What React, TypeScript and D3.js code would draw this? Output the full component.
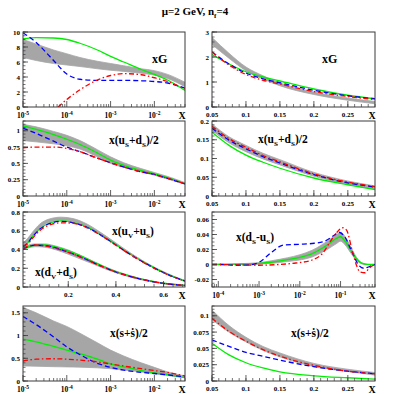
import React from 'react';
import * as d3 from 'd3';

// ---------------- data ----------------
// common x grids
const xLogA = [1e-5, 2e-5, 5e-5, 1e-4, 2e-4, 5e-4, 1e-3, 2e-3, 5e-3, 1e-2, 2e-2, 5e-2];
const xLinA = [0.05, 0.075, 0.1, 0.125, 0.15, 0.2, 0.25, 0.29];

// Panel 1 left: xG (small x)
const gSmallBandLo = [6.6, 6.2, 5.8, 5.6, 5.4, 5.1, 4.9, 4.75, 4.5, 4.25, 3.8, 2.7];
const gSmallBandHi = [9.0, 8.4, 7.6, 7.1, 6.6, 6.1, 5.8, 5.5, 5.1, 4.85, 4.35, 3.3];
const gSmallGreen = [9.1, 9.25, 9.2, 9.0, 8.5, 7.6, 6.75, 6.0, 5.0, 4.35, 3.6, 2.2];
const gSmallBlue = [9.9, 8.6, 6.2, 4.4, 3.7, 3.55, 3.55, 3.55, 3.5, 3.4, 3.2, 2.5];
const gSmallRedX = [6.3e-5, 1e-4, 2e-4, 5e-4, 1e-3, 2e-3, 5e-3, 1e-2, 2e-2, 5e-2];
const gSmallRed = [0, 1.0, 2.3, 3.6, 4.2, 4.45, 4.3, 3.9, 3.4, 2.4];

// Panel 1 right: xG (large x)
const gLargeBandLo = [2.5, 1.95, 1.45, 1.12, 0.85, 0.5, 0.27, 0.13];
const gLargeBandHi = [2.78, 2.15, 1.6, 1.25, 0.96, 0.6, 0.36, 0.22];
const gLargeGreen = [2.1, 1.72, 1.41, 1.2, 1.04, 0.72, 0.47, 0.33];
const gLargeBlue = [2.2, 1.72, 1.36, 1.13, 0.97, 0.67, 0.45, 0.33];
const gLargeRed = [2.2, 1.68, 1.3, 1.07, 0.92, 0.62, 0.42, 0.3];

// Panel 2 left: x(uS+dS)/2 small x
const seaSmallBandLo = [0.85, 0.83, 0.8, 0.77, 0.72, 0.6, 0.5, 0.44, 0.37, 0.32, 0.26, 0.18];
const seaSmallBandHi = [1.1, 1.06, 0.99, 0.93, 0.85, 0.71, 0.6, 0.51, 0.42, 0.36, 0.3, 0.205];
const seaSmallGreen = [1.075, 1.02, 0.94, 0.87, 0.79, 0.66, 0.55, 0.47, 0.39, 0.34, 0.28, 0.19];
const seaSmallBlue = [1.04, 0.96, 0.84, 0.75, 0.68, 0.58, 0.51, 0.445, 0.37, 0.33, 0.27, 0.185];
const seaSmallRed = [0.74, 0.75, 0.75, 0.73, 0.68, 0.58, 0.51, 0.445, 0.37, 0.33, 0.27, 0.185];

// Panel 2 right: x(uS+dS)/2 large x
const seaLargeBandLo = [0.175, 0.142, 0.118, 0.099, 0.083, 0.053, 0.031, 0.018];
const seaLargeBandHi = [0.192, 0.158, 0.135, 0.114, 0.097, 0.063, 0.04, 0.027];
const seaLargeGreen = [0.17, 0.135, 0.109, 0.09, 0.074, 0.048, 0.03, 0.017];
const seaLargeBlue = [0.181, 0.149, 0.126, 0.105, 0.088, 0.057, 0.035, 0.024];
const seaLargeRed = [0.186, 0.153, 0.13, 0.108, 0.091, 0.059, 0.037, 0.025];

// Panel 3 left: x(uV+uS) and x(dV+dS)
const uX = [0.01, 0.03, 0.05, 0.08, 0.12, 0.17, 0.22, 0.28, 0.34, 0.4, 0.46, 0.52, 0.58, 0.64, 0.69];
const uBandLo = [0.42, 0.475, 0.545, 0.625, 0.69, 0.715, 0.7, 0.645, 0.552, 0.45, 0.35, 0.258, 0.176, 0.108, 0.06];
const uBandHi = [0.47, 0.52, 0.585, 0.67, 0.725, 0.745, 0.73, 0.67, 0.575, 0.47, 0.365, 0.27, 0.188, 0.118, 0.07];
const uGreen = [0.42, 0.47, 0.54, 0.62, 0.68, 0.705, 0.69, 0.64, 0.55, 0.45, 0.35, 0.26, 0.18, 0.11, 0.065];
const uBlue = [0.43, 0.47, 0.535, 0.615, 0.675, 0.7, 0.685, 0.635, 0.548, 0.448, 0.348, 0.258, 0.178, 0.11, 0.064];
const uRed = [0.44, 0.46, 0.52, 0.6, 0.66, 0.685, 0.68, 0.63, 0.545, 0.445, 0.345, 0.255, 0.175, 0.108, 0.063];
const dX = [0.01, 0.03, 0.06, 0.1, 0.15, 0.2, 0.25, 0.3, 0.35, 0.4, 0.45, 0.5, 0.55, 0.6, 0.69];
const dBandLo = [0.395, 0.415, 0.43, 0.425, 0.395, 0.35, 0.3, 0.25, 0.198, 0.152, 0.113, 0.08, 0.055, 0.035, 0.014];
const dBandHi = [0.42, 0.445, 0.46, 0.46, 0.435, 0.395, 0.34, 0.28, 0.222, 0.17, 0.128, 0.092, 0.064, 0.042, 0.02];
const dGreen = [0.4, 0.425, 0.445, 0.448, 0.425, 0.385, 0.335, 0.275, 0.215, 0.165, 0.125, 0.09, 0.062, 0.04, 0.018];
const dBlue = [0.405, 0.43, 0.446, 0.442, 0.415, 0.372, 0.322, 0.266, 0.21, 0.16, 0.12, 0.086, 0.059, 0.038, 0.017];
const dRed = [0.41, 0.435, 0.448, 0.44, 0.41, 0.37, 0.32, 0.265, 0.21, 0.16, 0.12, 0.087, 0.06, 0.039, 0.017];

// Panel 3 right: x(dS-uS)
const asymX = [7e-5, 1e-4, 3e-4, 1e-3, 2e-3, 5e-3, 1e-2, 2e-2, 5e-2, 8e-2, 0.1, 0.13, 0.18, 0.25, 0.3, 0.4, 0.5, 0.7];
const asymBandLo = [0, 0, 0, 0.0005, 0.0015, 0.004, 0.006, 0.01, 0.021, 0.028, 0.031, 0.026, 0.015, 0.005, 0.002, 0, 0, 0];
const asymBandHi = [0, 0.0005, 0.001, 0.0025, 0.005, 0.009, 0.013, 0.019, 0.032, 0.04, 0.043, 0.037, 0.023, 0.009, 0.004, 0.001, 0, 0];
const asymGreen = [0, 0, 0.0005, 0.0015, 0.003, 0.0065, 0.0095, 0.0145, 0.027, 0.035, 0.037, 0.031, 0.019, 0.007, 0.003, 0.0005, 0, 0];
const asymRedX = [7e-5, 1e-4, 3e-4, 1e-3, 3e-3, 8e-3, 2e-2, 3.5e-2, 6e-2, 0.085, 0.11, 0.14, 0.19, 0.25, 0.3, 0.4, 0.5, 0.7];
const asymRed = [0, 0, -0.0005, -0.001, 0, 0.002, 0.006, 0.014, 0.033, 0.044, 0.049, 0.046, 0.02, -0.002, -0.01, -0.011, -0.005, 0];
const asymBlueX = [7e-5, 1e-4, 3e-4, 6e-4, 1e-3, 2e-3, 4e-3, 1e-2, 2e-2, 4e-2, 7e-2, 0.09, 0.13, 0.19, 0.28, 0.37, 0.5, 0.7];
const asymBlue = [0, 0, -0.001, -0.0005, 0.003, 0.016, 0.026, 0.027, 0.028, 0.031, 0.039, 0.043, 0.036, 0.017, -0.001, -0.005, -0.003, 0];

// Panel 4 left: x(s+sbar)/2 small x
const sSmallBandLo = [0.33, 0.325, 0.315, 0.31, 0.305, 0.29, 0.27, 0.24, 0.2, 0.16, 0.12, 0.07];
const sSmallBandHi = [1.62, 1.5, 1.32, 1.2, 1.05, 0.84, 0.68, 0.55, 0.4, 0.3, 0.2, 0.11];
const sSmallGreen = [0.92, 0.86, 0.76, 0.68, 0.6, 0.48, 0.375, 0.31, 0.23, 0.18, 0.14, 0.075];
const sSmallBlue = [1.42, 1.24, 0.97, 0.75, 0.58, 0.39, 0.3, 0.24, 0.19, 0.165, 0.135, 0.09];
const sSmallRed = [0.44, 0.48, 0.49, 0.48, 0.46, 0.42, 0.375, 0.33, 0.27, 0.23, 0.19, 0.11];

// Panel 4 right: x(s+sbar)/2 large x
const sLargeBandLo = [0.094, 0.075, 0.06, 0.047, 0.037, 0.022, 0.0145, 0.009];
const sLargeBandHi = [0.109, 0.085, 0.067, 0.053, 0.043, 0.027, 0.018, 0.013];
const sLargeGreen = [0.058, 0.04, 0.028, 0.02, 0.014, 0.008, 0.005, 0.003];
const sLargeBlue = [0.063, 0.053, 0.044, 0.038, 0.032, 0.022, 0.015, 0.011];
const sLargeRed = [0.096, 0.076, 0.061, 0.048, 0.038, 0.024, 0.015, 0.011];

// tick labels
const yTicksG = [0, 2, 4, 6, 8, 10];
const yTicksGL = [0, 1, 2, 3];
const yTicksSea = [0, 0.25, 0.5, 0.75, 1];
const yTicksSeaL = [0, 0.05, 0.1, 0.15, 0.2];
const yTicksVal = [0, 0.2, 0.4, 0.6, 0.8];
const yTicksAsym = [-0.02, 0, 0.02, 0.04, 0.06];
const yTicksS = [0, 0.5, 1, 1.5];
const yTicksSL = [0, 0.025, 0.05, 0.075, 0.1];
const xTicksLin = [0.05, 0.1, 0.15, 0.2, 0.25];
const xTicksVal = [0.2, 0.4, 0.6];

// ---------------- styles ----------------
const FONT = "'Liberation Serif', 'Times New Roman', serif";
const GREEN = '#00ee00';
const BLUE = '#0000ff';
const RED = '#ff0000';
const GRAY = '#a6a6a6';
const FRAME = '#3a3a3a';
const COL_X = [23, 212];
const COL_W = [162, 163];
const ROW_Y = [32, 121, 212, 306];
const PH = 75;

type Band = { x: number[]; lo: number[]; hi: number[] };
type Line = { x: number[]; y: number[]; color: string; dash?: string };
type PanelCfg = {
  id: string;
  col: number;
  row: number;
  log: boolean;
  xDomain: [number, number];
  yDomain: [number, number];
  yTicks: number[];
  yMinor: number;
  xTicks?: number[];
  xMinor?: number;
  bands: Band[];
  lines: Line[];
  labels: React.ReactNode;
};

const DASH = '5,3';
const DASHDOT = '5,2.5,1.5,2.5';

const g3 = (x: number[], gr: number[], bl: number[], rd: number[], rx?: number[]): Line[] => [
  { x, y: gr, color: GREEN },
  { x, y: bl, color: BLUE, dash: DASH },
  { x: rx || x, y: rd, color: RED, dash: DASHDOT },
];

// label with subscripts: parts alternate normal / subscript
function SubLabel({ x, y, size, parts }: { x: number; y: number; size: number; parts: [string, string?][] }) {
  const sub = size * 0.62;
  const shift = size * 0.3;
  return (
    <text x={x} y={y} fontSize={size} fontFamily={FONT} fontWeight="bold">
      {parts.map(([t, s], i) => (
        <React.Fragment key={i}>
          <tspan fontSize={size} dy={i === 0 ? 0 : -shift}>{t}</tspan>
          {s ? (
            <tspan fontSize={sub} dy={shift}>{s}</tspan>
          ) : (
            <tspan fontSize={sub} dy={shift}>{''}</tspan>
          )}
        </React.Fragment>
      ))}
    </text>
  );
}

const fmt = (v: number) => (v === 0 ? '0' : String(v));

function Panel({ p }: { p: PanelCfg }) {
  const x0 = COL_X[p.col];
  const w = COL_W[p.col];
  const y0 = ROW_Y[p.row];
  const h = PH;
  const xs: any = p.log
    ? d3.scaleLog().domain(p.xDomain).range([x0, x0 + w])
    : d3.scaleLinear().domain(p.xDomain).range([x0, x0 + w]);
  const ys = d3.scaleLinear().domain(p.yDomain).range([y0 + h, y0]);
  const line = d3
    .line<[number, number]>()
    .x((d) => xs(d[0]))
    .y((d) => ys(d[1]))
    .curve(d3.curveMonotoneX);
  const area = d3
    .area<[number, number, number]>()
    .x((d) => xs(d[0]))
    .y0((d) => ys(d[1]))
    .y1((d) => ys(d[2]))
    .curve(d3.curveMonotoneX);

  const eps = 1e-9;
  const yMinor = d3.range(
    Math.ceil(p.yDomain[0] / p.yMinor - eps) * p.yMinor,
    p.yDomain[1] + eps,
    p.yMinor
  );
  const xMajor: number[] = [];
  const xMinorArr: number[] = [];
  if (p.log) {
    const d0 = Math.floor(Math.log10(p.xDomain[0]));
    const d1 = Math.ceil(Math.log10(p.xDomain[1]));
    for (let d = d0; d <= d1; d++) {
      for (let k = 1; k <= 9; k++) {
        const v = k * Math.pow(10, d);
        if (v < p.xDomain[0] * (1 - 1e-9) || v > p.xDomain[1] * (1 + 1e-9)) continue;
        if (k === 1) xMajor.push(v);
        else xMinorArr.push(v);
      }
    }
  } else {
    (p.xTicks || []).forEach((v) => xMajor.push(v));
    const st = p.xMinor || 0.01;
    d3.range(Math.ceil(p.xDomain[0] / st - eps) * st, p.xDomain[1] + eps, st).forEach((v) =>
      xMinorArr.push(v)
    );
  }
  const clipId = 'clip-' + p.id;
  return (
    <g>
      <defs>
        <clipPath id={clipId}>
          <rect x={x0} y={y0} width={w} height={h} />
        </clipPath>
      </defs>
      <g clipPath={`url(#${clipId})`}>
        {p.bands.map((b, i) => (
          <path
            key={'b' + i}
            d={area(b.x.map((x, j) => [x, b.lo[j], b.hi[j]] as [number, number, number])) || ''}
            fill={GRAY}
            stroke={GRAY}
            strokeWidth={0.8}
          />
        ))}
        {p.lines.map((l, i) => (
          <path
            key={'l' + i}
            d={line(l.x.map((x, j) => [x, l.y[j]] as [number, number])) || ''}
            fill="none"
            stroke={l.color}
            strokeWidth={1.3}
            strokeDasharray={l.dash}
          />
        ))}
      </g>
      <rect x={x0} y={y0} width={w} height={h} fill="none" stroke={FRAME} strokeWidth={1} />
      {yMinor.map((v, i) => (
        <line key={'ym' + i} x1={x0} x2={x0 + 2.5} y1={ys(v)} y2={ys(v)} stroke={FRAME} strokeWidth={0.7} />
      ))}
      {p.yTicks.map((v, i) => (
        <g key={'yt' + i}>
          <line x1={x0} x2={x0 + 5} y1={ys(v)} y2={ys(v)} stroke={FRAME} strokeWidth={0.8} />
          <text x={x0 - 3} y={ys(v) + 2.5} textAnchor="end" fontSize={7} fontWeight="bold" fontFamily={FONT}>
            {fmt(v)}
          </text>
        </g>
      ))}
      {xMinorArr.map((v, i) => (
        <line key={'xm' + i} x1={xs(v)} x2={xs(v)} y1={y0 + h} y2={y0 + h - 3} stroke={FRAME} strokeWidth={0.7} />
      ))}
      {xMajor.map((v, i) => (
        <g key={'xt' + i}>
          <line x1={xs(v)} x2={xs(v)} y1={y0 + h} y2={y0 + h - 6} stroke={FRAME} strokeWidth={0.8} />
          {p.log ? (
            <text x={xs(v)} y={y0 + h + 11} textAnchor="middle" fontSize={7.5} fontWeight="bold" fontFamily={FONT}>
              <tspan fontSize={7.5}>10</tspan>
              <tspan fontSize={5.5} dy={-3.5}>
                {String(Math.round(Math.log10(v)))}
              </tspan>
            </text>
          ) : (
            <text x={xs(v)} y={y0 + h + 10} textAnchor="middle" fontSize={7} fontWeight="bold" fontFamily={FONT}>
              {fmt(v)}
            </text>
          )}
        </g>
      ))}
      <text x={x0 + w - 3} y={y0 + h + 12} textAnchor="middle" fontSize={10} fontWeight="bold" fontFamily={FONT}>
        X
      </text>
      {p.labels}
    </g>
  );
}

const zipBand = (x: number[], lo: number[], hi: number[]): Band => ({ x, lo, hi });

const seaParts: [string, string?][] = [['x(u', 'S'], ['+d', 'S'], [')/2']];

const panels: PanelCfg[] = [
  {
    id: 'g-small', col: 0, row: 0, log: true, xDomain: [1e-5, 0.05], yDomain: [0, 10],
    yTicks: yTicksG, yMinor: 0.5,
    bands: [zipBand(xLogA, gSmallBandLo, gSmallBandHi)],
    lines: g3(xLogA, gSmallGreen, gSmallBlue, gSmallRed, gSmallRedX),
    labels: <text x={152} y={63} fontSize={12} fontFamily={FONT} fontWeight="bold">xG</text>,
  },
  {
    id: 'g-large', col: 1, row: 0, log: false, xDomain: [0.05, 0.29], yDomain: [0, 3],
    yTicks: yTicksGL, yMinor: 0.2, xTicks: xTicksLin, xMinor: 0.01,
    bands: [zipBand(xLinA, gLargeBandLo, gLargeBandHi)],
    lines: g3(xLinA, gLargeGreen, gLargeBlue, gLargeRed),
    labels: <text x={322} y={63} fontSize={12} fontFamily={FONT} fontWeight="bold">xG</text>,
  },
  {
    id: 'sea-small', col: 0, row: 1, log: true, xDomain: [1e-5, 0.05], yDomain: [0, 1.15],
    yTicks: yTicksSea, yMinor: 0.05,
    bands: [zipBand(xLogA, seaSmallBandLo, seaSmallBandHi)],
    lines: g3(xLogA, seaSmallGreen, seaSmallBlue, seaSmallRed),
    labels: <SubLabel x={109} y={144} size={11.5} parts={seaParts} />,
  },
  {
    id: 'sea-large', col: 1, row: 1, log: false, xDomain: [0.05, 0.29], yDomain: [0, 0.2],
    yTicks: yTicksSeaL, yMinor: 0.01, xTicks: xTicksLin, xMinor: 0.01,
    bands: [zipBand(xLinA, seaLargeBandLo, seaLargeBandHi)],
    lines: g3(xLinA, seaLargeGreen, seaLargeBlue, seaLargeRed),
    labels: <SubLabel x={258} y={143} size={11.5} parts={seaParts} />,
  },
  {
    id: 'val', col: 0, row: 2, log: false, xDomain: [0.01, 0.69], yDomain: [0, 0.8],
    yTicks: yTicksVal, yMinor: 0.04, xTicks: xTicksVal, xMinor: 0.04,
    bands: [zipBand(uX, uBandLo, uBandHi), zipBand(dX, dBandLo, dBandHi)],
    lines: [...g3(uX, uGreen, uBlue, uRed), ...g3(dX, dGreen, dBlue, dRed)],
    labels: (
      <>
        <SubLabel x={112} y={235} size={11.5} parts={[['x(u', 'V'], ['+u', 'S'], [')']]} />
        <SubLabel x={35} y={276} size={11.5} parts={[['x(d', 'V'], ['+d', 'S'], [')']]} />
      </>
    ),
  },
  {
    id: 'asym', col: 1, row: 2, log: true, xDomain: [7e-5, 0.7], yDomain: [-0.03, 0.07],
    yTicks: yTicksAsym, yMinor: 0.005,
    bands: [zipBand(asymX, asymBandLo, asymBandHi)],
    lines: [
      { x: asymX, y: asymGreen, color: GREEN },
      { x: asymBlueX, y: asymBlue, color: BLUE, dash: DASH },
      { x: asymRedX, y: asymRed, color: RED, dash: DASHDOT },
    ],
    labels: <SubLabel x={236} y={241} size={11.5} parts={[['x(d', 'S'], ['-u', 'S'], [')']]} />,
  },
  {
    id: 's-small', col: 0, row: 3, log: true, xDomain: [1e-5, 0.05], yDomain: [0, 1.65],
    yTicks: yTicksS, yMinor: 0.1,
    bands: [zipBand(xLogA, sSmallBandLo, sSmallBandHi)],
    lines: g3(xLogA, sSmallGreen, sSmallBlue, sSmallRed),
    labels: (
      <text x={110} y={337} fontSize={11.5} fontFamily={FONT} fontWeight="bold">
        {'x(s+s\u0307)/2'}
      </text>
    ),
  },
  {
    id: 's-large', col: 1, row: 3, log: false, xDomain: [0.05, 0.29], yDomain: [0, 0.115],
    yTicks: yTicksSL, yMinor: 0.005, xTicks: xTicksLin, xMinor: 0.01,
    bands: [zipBand(xLinA, sLargeBandLo, sLargeBandHi)],
    lines: g3(xLinA, sLargeGreen, sLargeBlue, sLargeRed),
    labels: (
      <text x={291} y={337} fontSize={11.5} fontFamily={FONT} fontWeight="bold">
        {'x(s+s\u0307)/2'}
      </text>
    ),
  },
];

export default function App() {
  return (
    <svg
      width={394}
      height={394}
      viewBox="0 0 394 394"
      style={{ position: 'absolute', left: 0, top: 0, background: '#fff' }}
    >
      <rect x={0} y={0} width={394} height={394} fill="#fff" />
      <text x={195} y={15} textAnchor="middle" fontFamily={FONT} fontWeight="bold" fontSize={11}>
        <tspan fontSize={11}>μ=2 GeV, n</tspan>
        <tspan fontSize={7} dy={3}>f</tspan>
        <tspan fontSize={11} dy={-3}>=4</tspan>
      </text>
      {panels.map((p) => (
        <Panel key={p.id} p={p} />
      ))}
    </svg>
  );
}
